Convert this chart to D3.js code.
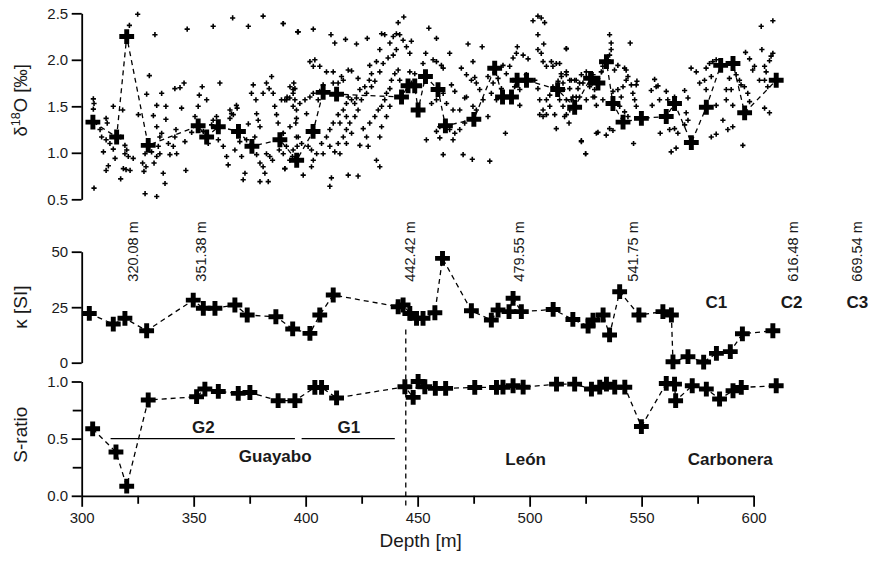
<!DOCTYPE html>
<html><head><meta charset="utf-8">
<script src="https://cdn.jsdelivr.net/npm/d3@7"></script>
<style>body{margin:0;background:#fff} text{font-family:"Liberation Sans",Arial,sans-serif}</style>
</head><body><svg id="c" width="871" height="561"></svg>
<script>
// ---------------- DATA ----------------
// raw δ18O measurements [depth m, ‰]
const d18ORaw = [
[321.3,2.37],[325.0,2.49],[332.7,2.27],[347.1,2.33],[358.7,2.36],[367.4,2.45],[374.4,2.36],[381.0,2.47],[390.0,2.39],[396.4,2.30],
[305.2,1.58],[305.5,1.53],[305.2,1.47],[305.5,0.62],[314.1,1.50],[318.3,1.46],[310.9,1.37],[311.4,1.32],[308.2,1.25],[308.9,1.17],
[310.9,1.14],[312.6,1.10],[309.7,1.01],[310.9,0.81],[311.9,0.86],[314.9,0.94],[314.1,1.04],[317.4,1.17],[319.3,1.08],[320.1,1.03],
[319.3,0.99],[320.8,0.96],[318.6,0.83],[319.8,0.82],[321.6,0.81],[317.4,0.72],[323.0,0.94],[325.3,1.41],[327.2,0.89],[328.3,0.99],
[328.7,0.85],[330.2,1.83],[329.0,1.63],[327.8,0.80],[328.3,0.56],[333.5,0.53],[332.3,0.89],[333.5,0.96],[331.2,1.01],[334.2,1.07],
[334.9,1.17],[335.7,1.21],[333.5,1.28],[332.0,1.40],[333.5,1.51],[334.9,0.99],[336.4,0.78],[337.2,0.67],[335.7,1.64],[337.6,1.50],
[337.6,1.36],[338.7,1.10],[339.4,0.98],[340.9,1.07],[341.6,1.17],[342.1,1.25],[342.4,0.99],[341.6,1.69],[343.9,1.70],[345.7,1.75],
[344.6,1.48],[346.1,1.12],[346.5,0.81],[349.1,1.22],[350.6,1.39],[352.0,1.50],[352.5,1.62],[353.8,1.71],[355.8,1.57],[354.3,1.23],
[356.5,1.10],[358.0,1.30],[358.7,1.35],[360.2,1.39],[361.7,1.75],[361.0,1.14],[363.2,1.07],[364.7,0.96],[365.4,0.87],[366.2,1.46],
[366.9,1.42],[366.2,1.37],[367.7,1.41],[369.1,1.51],[369.4,1.48],[370.6,1.12],[368.4,1.03],[371.4,0.96],[372.1,0.71],[372.9,0.78],
[373.6,1.14],[374.4,1.31],[375.8,1.64],[376.6,1.73],[377.8,1.57],[378.1,1.42],[378.8,1.35],[379.6,1.28],[377.3,1.17],[376.6,1.07],
[378.1,0.98],[379.6,0.89],[381.0,0.85],[381.8,0.78],[379.6,0.69],[383.3,0.69],[381.0,1.64],[382.5,1.75],[383.7,1.69],[384.8,1.82],
[385.5,1.64],[386.2,1.50],[387.0,1.41],[387.7,1.32],[390.0,1.21],[388.2,1.03],[390.0,0.99],[390.7,0.83],[390.7,1.57],[391.7,1.60],
[392.9,1.59],[394.4,1.68],[394.7,1.75],[395.2,1.57],[395.9,1.46],[395.6,1.32],[396.7,1.17],[396.2,1.07],[394.1,0.96],[392.9,0.92],
[394.4,1.03],[391.4,1.07],[385.2,0.92],[384.0,0.96],[382.5,0.99],
[390.0,2.39],[396.7,2.30],[403.4,2.33],[411.3,2.27],[413.0,2.18],[417.8,2.22],[422.7,2.17],[427.5,2.23],[441.3,2.40],[443.8,2.46],
[455.0,2.34],[458.4,2.23],[472.5,2.17],[478.8,2.14],[494.5,2.14],[501.5,2.42],[503.7,2.47],[505.2,2.45],[506.7,2.40],[503.7,2.27],
[506.3,2.17],[516.4,2.12],[393.0,1.71],[395.2,1.69],[394.4,1.64],[391.5,1.57],[389.2,1.57],[394.4,1.50],[397.4,1.53],[399.7,1.57],
[401.9,1.60],[403.4,1.64],[405.6,1.57],[400.4,1.42],[395.9,1.37],[393.0,1.28],[390.0,1.21],[395.9,1.17],[398.2,1.10],[401.1,1.07],
[402.6,1.03],[404.9,0.99],[407.1,1.10],[409.3,1.17],[410.8,1.25],[412.3,1.32],[414.5,1.41],[416.8,1.46],[418.2,1.53],[419.0,1.60],
[420.5,1.57],[421.9,1.53],[422.7,1.59],[424.2,1.68],[426.4,1.71],[428.4,1.78],[429.4,1.85],[428.6,1.94],[431.6,1.98],[433.1,2.11],
[433.9,2.28],[435.3,2.27],[437.6,2.18],[439.1,2.25],[440.5,2.28],[442.0,2.27],[443.5,2.21],[445.0,2.14],[446.5,2.07],[447.2,2.20],
[440.5,2.11],[439.1,2.05],[436.8,2.02],[434.6,1.96],[433.1,1.87],[430.9,1.77],[429.4,1.71],[427.2,1.64],[424.9,1.57],[423.4,1.46],
[422.0,1.39],[419.7,1.32],[418.2,1.25],[416.8,1.17],[414.5,1.10],[413.0,1.01],[410.8,1.07],[407.8,0.99],[403.4,0.92],[402.6,0.85],
[398.9,0.76],[390.7,0.83],[415.3,0.99],[418.2,1.10],[420.5,1.21],[424.2,1.08],[427.9,1.07],[427.2,1.17],[425.7,1.26],[428.6,1.32],
[430.9,1.39],[432.4,1.46],[433.9,1.50],[435.3,1.57],[436.1,1.64],[437.6,1.69],[438.3,1.78],[439.8,1.85],[441.3,1.89],[442.0,1.78],
[437.6,1.50],[436.1,1.39],[433.9,1.28],[433.1,1.17],[431.6,0.92],[433.1,0.85],[419.0,0.76],[423.4,0.75],[411.5,0.73],[410.8,0.64],
[415.3,1.32],[418.2,1.39],[403.4,1.93],[404.1,2.00],[401.9,1.98],[406.3,1.93],[409.3,1.87],[412.3,1.87],[416.0,1.82],[419.0,1.89],
[420.5,1.88],[423.4,1.80],[416.8,1.78],[414.5,1.75],[412.3,1.75],[407.8,1.73],[406.3,1.66],[446.5,1.87],[448.7,1.85],[447.2,1.75],
[452.4,1.96],[453.6,2.07],[456.9,2.00],[458.4,1.98],[460.6,1.94],[461.4,1.91],[464.3,2.07],[465.1,1.73],[466.6,1.66],[461.4,1.64],
[458.4,1.57],[456.2,1.53],[462.9,1.53],[465.8,1.46],[468.8,1.46],[471.0,1.59],[471.8,1.60],[474.7,1.50],[476.2,1.46],[471.0,1.32],
[468.8,1.25],[464.3,1.25],[459.9,1.28],[458.4,1.23],[453.9,1.14],[459.9,1.16],[465.8,1.14],[466.6,1.21],[461.4,0.98],[470.3,0.98],
[474.4,0.93],[482.2,0.91],[489.2,1.21],[481.4,1.39],[479.2,1.57],[477.7,1.68],[476.2,1.75],[475.5,1.81],[474.7,1.98],[481.4,1.82],
[483.7,1.75],[485.9,1.80],[487.4,1.69],[488.1,1.94],[491.1,1.93],[492.6,2.02],[494.1,2.07],[497.1,2.05],[499.3,2.01],[498.5,1.84],
[502.3,1.78],[503.7,1.69],[504.5,1.57],[506.0,1.46],[507.5,1.41],[509.0,1.50],[511.2,1.41],[511.9,1.26],[506.0,1.39],[504.5,1.41],
[507.5,1.57],[509.0,1.62],[510.4,1.71],[512.7,1.77],[514.2,1.82],[516.4,1.84],[517.9,1.78],[520.1,1.78],[522.3,1.75],[523.1,1.84],
[525.3,1.87],[528.3,1.78],[529.0,1.60],[529.8,1.51],[529.0,1.68],[529.8,1.21],[523.1,1.12],[525.0,0.99],[513.4,1.57],[514.9,1.68],
[516.4,1.41],[518.6,1.57],[520.8,1.60],[507.5,1.93],[509.7,1.98],[505.2,2.07],[503.7,2.11],[506.0,1.98],[510.4,1.93],[511.9,1.96],
[495.6,1.51],[495.6,1.68],[492.6,1.78],[493.3,1.71],[489.6,1.85],[485.2,1.57],[482.9,1.64],[471.8,1.84],[469.5,1.91],[474.0,1.78],
[516.4,2.12],[535.7,2.27],[536.4,2.18],[536.4,2.11],[535.7,2.05],[535.0,2.00],[544.9,2.18],[513.4,1.96],[514.1,1.85],[516.4,1.87],
[514.9,1.75],[518.6,1.78],[520.8,1.78],[517.9,1.69],[521.6,1.69],[523.8,1.75],[525.3,1.82],[528.3,1.84],[529.8,1.78],[526.8,1.71],
[528.3,1.60],[525.3,1.57],[522.3,1.60],[519.3,1.60],[516.4,1.57],[514.9,1.50],[517.9,1.46],[515.6,1.39],[517.6,1.32],[523.1,1.13],
[525.0,0.99],[530.5,1.22],[534.2,1.19],[535.7,1.26],[537.2,1.24],[532.7,1.57],[537.2,1.66],[539.4,1.68],[540.9,1.60],[541.7,1.71],
[543.1,1.78],[542.4,1.91],[543.1,1.89],[543.9,1.82],[545.4,1.73],[546.1,1.64],[546.9,1.57],[547.6,1.50],[547.9,1.77],[547.6,1.73],
[539.4,1.94],[537.9,1.89],[532.7,1.93],[532.0,1.87],[540.2,1.50],[542.4,1.44],[543.9,1.39],[546.4,1.10],[555.8,1.79],[556.5,1.71],
[557.3,1.72],[554.3,1.67],[554.7,1.51],[558.0,1.57],[561.0,1.66],[561.7,1.57],[564.7,1.60],[569.2,1.67],[570.7,1.59],[569.9,1.43],
[570.7,1.35],[569.2,1.30],[566.2,1.53],[566.2,1.21],[562.5,1.25],[564.7,1.26],[558.3,1.21],[563.2,1.01],[565.4,1.05],[572.1,1.91],
[574.4,1.87],[575.9,1.75],[578.1,1.78],[578.8,1.91],[580.3,1.96],[581.8,1.98],[583.3,2.00],[581.1,1.82],[578.8,1.68],[583.3,1.51],
[586.3,1.35],[588.5,1.25],[590.7,1.28],[581.1,1.17],[583.3,1.20],[589.2,1.80],[587.8,1.68],[590.0,1.68],[587.8,1.57],[590.7,1.51],
[592.2,1.84],[594.4,1.73],[595.9,1.71],[593.7,1.78],[597.4,1.64],[598.2,1.55],[595.2,1.08],[596.4,2.08],[598.2,2.01],[599.6,1.89],
[600.4,1.93],[602.6,1.78],[603.7,2.11],[604.9,1.93],[605.6,1.87],[604.9,1.78],[607.1,1.99],[608.6,2.07],[607.8,2.04],[603.4,2.36],
[608.6,2.42],[604.9,1.48],[607.1,1.43],[606.3,1.71]
];
// mean δ18O values
const d18OMean = [
[305.0,1.33],[315.6,1.17],[320.1,2.25],[329.7,1.08],[352.0,1.29],[355.8,1.17],[361.0,1.28],[370.0,1.23],[376.0,1.07],[388.5,1.14],
[396.0,0.92],[403.3,1.23],[407.8,1.65],[413.8,1.63],[442.8,1.60],[445.7,1.72],[448.7,1.72],[450.2,1.46],[453.5,1.82],[459.1,1.68],
[462.4,1.29],[475.1,1.36],[484.4,1.91],[487.9,1.60],[491.9,1.60],[494.4,1.78],[498.6,1.78],[512.5,1.68],[520.1,1.49],[527.2,1.80],
[530.5,1.75],[534.3,1.98],[537.2,1.53],[541.7,1.33],[549.9,1.37],[561.0,1.39],[564.7,1.53],[572.2,1.11],[578.9,1.49],[585.3,1.94],
[590.8,1.96],[596.0,1.43],[610.1,1.78]
];
// magnetic susceptibility κ [SI]
const kappa = [
[303.4,22.2],[314.1,17.4],[319.3,20.0],[329.0,14.4],[349.8,28.2],[354.3,24.5],[359.5,24.5],[368.4,26.0],[373.9,21.5],[386.7,20.7],
[394.2,15.2],[401.9,13.2],[406.3,21.5],[412.3,30.5],[441.3,25.2],[443.5,26.0],[446.5,22.2],[449.5,20.0],[452.4,20.0],[457.7,22.5],
[461.1,47.0],[474.0,23.4],[482.9,19.2],[485.9,23.7],[490.8,23.0],[492.6,29.0],[496.3,23.0],[510.5,24.0],[519.3,19.5],[526.1,16.5],
[528.3,19.2],[532.8,21.5],[535.7,12.5],[540.2,32.0],[548.8,21.5],[559.5,23.0],[563.3,21.5],[564.0,0.4],[570.7,2.7],[577.7,0.3],
[583.4,4.2],[589.6,5.0],[595.0,13.0],[608.6,14.4]
];
// S-ratio
const sRatio = [
[304.9,0.586],[315.3,0.383],[320.1,0.084],[329.7,0.838],[351.3,0.867],[355.0,0.934],[361.0,0.913],[369.9,0.896],[375.1,0.904],[387.7,0.832],
[395.2,0.832],[404.1,0.948],[407.1,0.948],[413.8,0.856],[444.3,0.954],[448.0,0.861],[450.2,1.000],[453.2,0.954],[457.9,0.940],[462.5,0.940],
[475.5,0.948],[485.2,0.948],[488.1,0.950],[492.6,0.963],[497.1,0.950],[512.0,0.977],[520.1,0.977],[527.6,0.934],[531.3,0.950],[534.3,0.977],
[538.0,0.950],[542.5,0.950],[549.9,0.606],[561.0,0.983],[564.7,0.977],[565.2,0.832],[572.6,0.963],[578.9,0.934],[584.8,0.847],[590.8,0.919],
[594.5,0.948],[610.1,0.963]
];
// axis ticks
const xTicks = [300,350,400,450,500,550,600];
const xMinorTicks = [325,375,425,475,525,575];
const d18OTicks = [0.5,1.0,1.5,2.0,2.5];
const kappaTicks = [0,25,50];
const sTicks = [0.0,0.5,1.0];
const sMinorTicks = [0.25,0.75];
// annotations
const depthLabelText = ["320.08 m","351.38 m","442.42 m","479.55 m","541.75 m","616.48 m","669.54 m"];
const depthLabelAt = [325.3,355.7,448.7,497.4,548.3,619.7,648.3];
const subUnitNames = ["G2","G1","C1","C2","C3"];
const subUnitAt = [354.3,419.3,583.4,617.0,646.3];
const formationNames = ["Guayabo","León","Carbonera"];
const formationAt = [386.4,498.2,589.6];
const unitBars = [[312.9,395.2],[398.2,439.8]];
const boundaryDepth = 444.7;

// ---------------- DRAW ----------------
const svg = d3.select("#c");
const x = d3.scaleLinear([300,600],[81.7,753.6]);
const yO = d3.scaleLinear([0.5,2.5],[199.3,13.3]);
const yK = d3.scaleLinear([0,50],[362.7,251.7]);
const yS = d3.scaleLinear([0,1],[495.8,381.5]);
const txt = "#1a1a1a";

function styleAxis(g){
  g.select(".domain").attr("stroke","#000").attr("stroke-width",1.8);
  g.selectAll(".tick line").attr("stroke","#000").attr("stroke-width",1.8);
  g.selectAll(".tick text").attr("font-size",15).attr("fill",txt)
   .attr("font-family","'Liberation Sans',Arial,sans-serif");
}
const fmt1 = d3.format(".1f");
svg.append("g").attr("transform",`translate(${x(300)},0)`)
  .call(d3.axisLeft(yO).tickValues(d18OTicks).tickFormat(fmt1).tickSize(10).tickSizeOuter(0).tickPadding(3.5)).call(styleAxis);
svg.append("g").attr("transform",`translate(${x(300)},0)`)
  .call(d3.axisLeft(yK).tickValues(kappaTicks).tickFormat(d3.format("d")).tickSize(10).tickSizeOuter(0).tickPadding(3.5)).call(styleAxis);
svg.append("g").attr("transform",`translate(${x(300)},0)`)
  .call(d3.axisLeft(yS).tickValues(sTicks).tickFormat(fmt1).tickSize(10).tickSizeOuter(0).tickPadding(3.5)).call(styleAxis);
svg.append("g").attr("transform",`translate(${x(300)},0)`)
  .call(d3.axisLeft(yS).tickValues(sMinorTicks).tickFormat("").tickSize(9).tickSizeOuter(0)).call(styleAxis)
  .select(".domain").remove();
svg.append("g").attr("transform",`translate(0,${yS(0)})`)
  .call(d3.axisBottom(x).tickValues(xTicks).tickFormat(d3.format("d")).tickSize(11).tickSizeOuter(0).tickPadding(6)).call(styleAxis);
svg.append("g").attr("transform",`translate(0,${yS(0)})`)
  .call(d3.axisBottom(x).tickValues(xMinorTicks).tickFormat("").tickSize(8).tickSizeOuter(0)).call(styleAxis)
  .select(".domain").remove();

// axis titles
const t1 = svg.append("text").attr("transform",`translate(27,${(yO(0.5)+yO(2.5))/2-6}) rotate(-90)`)
  .attr("text-anchor","middle").attr("font-size",18.5).attr("fill",txt);
t1.append("tspan").text("δ");
t1.append("tspan").text("18").attr("font-size",12.5).attr("dy",-7);
t1.append("tspan").text("O [‰]").attr("dy",7);
svg.append("text").attr("transform",`translate(27,${(yK(0)+yK(50))/2}) rotate(-90)`)
  .attr("text-anchor","middle").attr("font-size",19).attr("fill",txt).text("κ [SI]");
svg.append("text").attr("transform",`translate(27,${(yS(0)+yS(1))/2-4}) rotate(-90)`)
  .attr("text-anchor","middle").attr("font-size",19).attr("fill",txt).text("S-ratio");
svg.append("text").attr("x",(x(300)+x(600))/2+3).attr("y",546.5)
  .attr("text-anchor","middle").attr("font-size",19).attr("fill",txt).text("Depth [m]");

// dashed lines
const dash = "5,4";
function dline(data, y){
  svg.append("path").datum(data.slice().sort((a,b)=>a[0]-b[0]))
    .attr("d", d3.line().x(d=>x(d[0])).y(d=>y(d[1])))
    .attr("fill","none").attr("stroke","#000").attr("stroke-width",1.3).attr("stroke-dasharray",dash);
}
// boundary line
svg.append("line").attr("x1",x(boundaryDepth)).attr("x2",x(boundaryDepth))
  .attr("y1",yK(15)).attr("y2",yS(0)+10)
  .attr("stroke","#000").attr("stroke-width",1.3).attr("stroke-dasharray",dash);

// raw points
svg.append("g").selectAll("path").data(d18ORaw).join("path")
  .attr("transform",d=>`translate(${x(d[0])},${yO(d[1])})`)
  .attr("d","M-2.6,0H2.6M0,-2.6V2.6").attr("stroke","#000").attr("stroke-width",1.6);

dline(d18OMean, yO);
dline(kappa, yK);
dline(sRatio, yS);

const cross = d3.symbol(d3.symbolCross, 122)();
function crosses(data, y){
  svg.append("g").selectAll("path").data(data).join("path")
    .attr("transform",d=>`translate(${x(d[0])},${y(d[1])})`)
    .attr("d",cross).attr("fill","#000");
}
crosses(d18OMean, yO);
crosses(kappa, yK);
crosses(sRatio, yS);

// unit bars
svg.append("g").selectAll("line").data(unitBars).join("line")
  .attr("x1",d=>x(d[0])).attr("x2",d=>x(d[1])).attr("y1",yS(0.5)).attr("y2",yS(0.5))
  .attr("stroke","#000").attr("stroke-width",1.3);

// depth labels
svg.append("g").selectAll("text").data(depthLabelText).join("text")
  .attr("transform",(d,i)=>`translate(${x(depthLabelAt[i])},${yK(36.5)}) rotate(-90)`)
  .attr("font-size",14.5).attr("fill",txt).text(d=>d);

// sub-unit names
const subY = [yS(0.547), yS(0.547), yK(24.5), yK(24.5), yK(24.5)];
svg.append("g").selectAll("text").data(subUnitNames).join("text")
  .attr("x",(d,i)=>x(subUnitAt[i])).attr("y",(d,i)=>subY[i])
  .attr("text-anchor","middle").attr("font-size",17).attr("font-weight","bold").attr("fill",txt).text(d=>d);
const fmY = [yS(0.298), yS(0.27), yS(0.27)];
svg.append("g").selectAll("text").data(formationNames).join("text")
  .attr("x",(d,i)=>x(formationAt[i])).attr("y",(d,i)=>fmY[i])
  .attr("text-anchor","middle").attr("font-size",17).attr("font-weight","bold").attr("fill",txt).text(d=>d);
</script></body></html>
